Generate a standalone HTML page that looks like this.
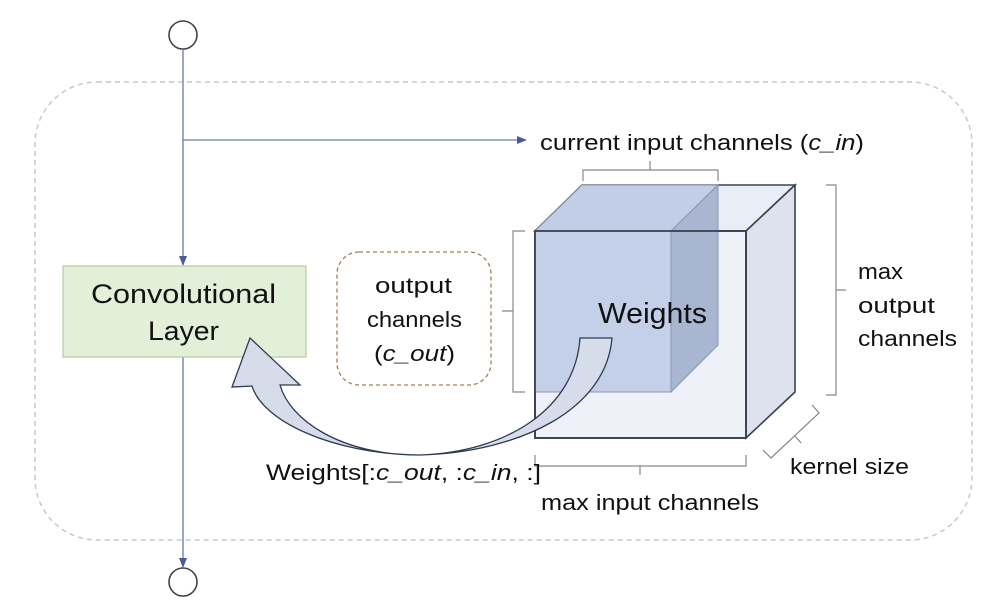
<!DOCTYPE html>
<html><head><meta charset="utf-8"><style>
html,body{margin:0;padding:0;background:#fff}
svg{display:block}
text{font-family:"Liberation Sans","DejaVu Sans",sans-serif;fill:#111}
</style></head><body>
<svg width="1002" height="614" viewBox="0 0 1002 614" xmlns="http://www.w3.org/2000/svg">
<defs>
<marker id="ah" markerWidth="10" markerHeight="8" refX="9" refY="4" orient="auto" markerUnits="userSpaceOnUse">
<path d="M0,0 L10,4 L0,8 Z" fill="#4a5a9c"/></marker>
</defs>
<rect x="35" y="82" width="937" height="458" rx="62" fill="none" stroke="#c4cad2" stroke-width="1.5" stroke-dasharray="5,4"/>
<circle cx="183" cy="35" r="14" fill="#fff" stroke="#444" stroke-width="1.6"/>
<circle cx="183" cy="582" r="14" fill="#fff" stroke="#444" stroke-width="1.6"/>
<line x1="183" y1="49" x2="183" y2="265" stroke="#6a7aa8" stroke-width="1.3" marker-end="url(#ah)"/>
<line x1="183" y1="357" x2="183" y2="567" stroke="#6a7aa8" stroke-width="1.3" marker-end="url(#ah)"/>
<line x1="183" y1="140" x2="526" y2="140" stroke="#6a7aa8" stroke-width="1.3" marker-end="url(#ah)"/>
<rect x="63" y="266" width="243" height="91" fill="#e2efd9" stroke="#b4cc9c" stroke-width="1.2"/>
<text x="91" y="303" font-size="27" textLength="185" lengthAdjust="spacingAndGlyphs">Convolutional</text>
<text x="148" y="340" font-size="27" textLength="71" lengthAdjust="spacingAndGlyphs">Layer</text>
<rect x="337" y="252" width="154" height="133" rx="22" fill="none" stroke="#a08060" stroke-width="1.3" stroke-dasharray="4,3"/>
<text x="375" y="293" font-size="22" textLength="77" lengthAdjust="spacingAndGlyphs">output</text>
<text x="367" y="327" font-size="22" textLength="95" lengthAdjust="spacingAndGlyphs">channels</text>
<text x="374" y="361" font-size="22" textLength="81" lengthAdjust="spacingAndGlyphs">(<tspan font-style="italic">c_out</tspan>)</text>
<polygon points="535,231 582,185 795,185 746,231" fill="#e9edf6" stroke="#3a4150" stroke-width="1.6"/>
<polygon points="746,231 795,185 795,392 746,438" fill="#dde2ee" stroke="#3a4150" stroke-width="1.6"/>
<rect x="535" y="231" width="211" height="207" fill="#eef1f8" stroke="#3a4150" stroke-width="1.8"/>
<polygon points="535,231 582,185 718,185 671,231" fill="#c2cde6" stroke="#8a96b4" stroke-width="1"/>
<polygon points="671,231 718,185 718,345 671,392" fill="#a9b6d2" stroke="#8a96b4" stroke-width="1"/>
<rect x="535" y="231" width="136" height="161" fill="#c4cfe8" stroke="#8a96b4" stroke-width="1"/>
<rect x="535" y="231" width="211" height="207" fill="none" stroke="#3a4150" stroke-width="1.8"/>
<text x="598" y="323" font-size="29" textLength="109" lengthAdjust="spacingAndGlyphs">Weights</text>
<path d="M580,338 L612,338 C606,410 520,452 420,455 C340,455 290,420 280,385 L300,385 L250,338 L232,387 L252,386 C262,420 330,454 420,455 C505,452 575,410 580,338 Z" fill="#d6dcea" stroke="#2e3a50" stroke-width="1.3"/>
<path d="M583,181 L583,170 L718,170 L718,181 M650,170 L650,161" fill="none" stroke="#888" stroke-width="1.2"/>
<path d="M525,231 L513,231 L513,392 L525,392 M513,311 L502,311" fill="none" stroke="#888" stroke-width="1.2"/>
<path d="M826,185 L836,185 L836,395 L826,395 M836,290 L846,290" fill="none" stroke="#888" stroke-width="1.2"/>
<path d="M535,455 L535,466 L746,466 L746,455 M640,466 L640,475" fill="none" stroke="#888" stroke-width="1.2"/>
<path d="M812,405 L819,413 L771,458 L763,450 M795,436 L801,443" fill="none" stroke="#888" stroke-width="1.2"/>
<text x="540" y="150" font-size="22" textLength="324" lengthAdjust="spacingAndGlyphs">current input channels (<tspan font-style="italic">c_in</tspan>)</text>
<text x="858" y="279" font-size="22" textLength="45" lengthAdjust="spacingAndGlyphs">max</text>
<text x="858" y="313" font-size="22" textLength="77" lengthAdjust="spacingAndGlyphs">output</text>
<text x="858" y="346" font-size="22" textLength="99" lengthAdjust="spacingAndGlyphs">channels</text>
<text x="790" y="474" font-size="22" textLength="119" lengthAdjust="spacingAndGlyphs">kernel size</text>
<text x="541" y="510" font-size="22" textLength="218" lengthAdjust="spacingAndGlyphs">max input channels</text>
<text x="266" y="480" font-size="22" textLength="275" lengthAdjust="spacingAndGlyphs">Weights[:<tspan font-style="italic">c_out</tspan>, :<tspan font-style="italic">c_in</tspan>, :]</text>
</svg>
</body></html>
